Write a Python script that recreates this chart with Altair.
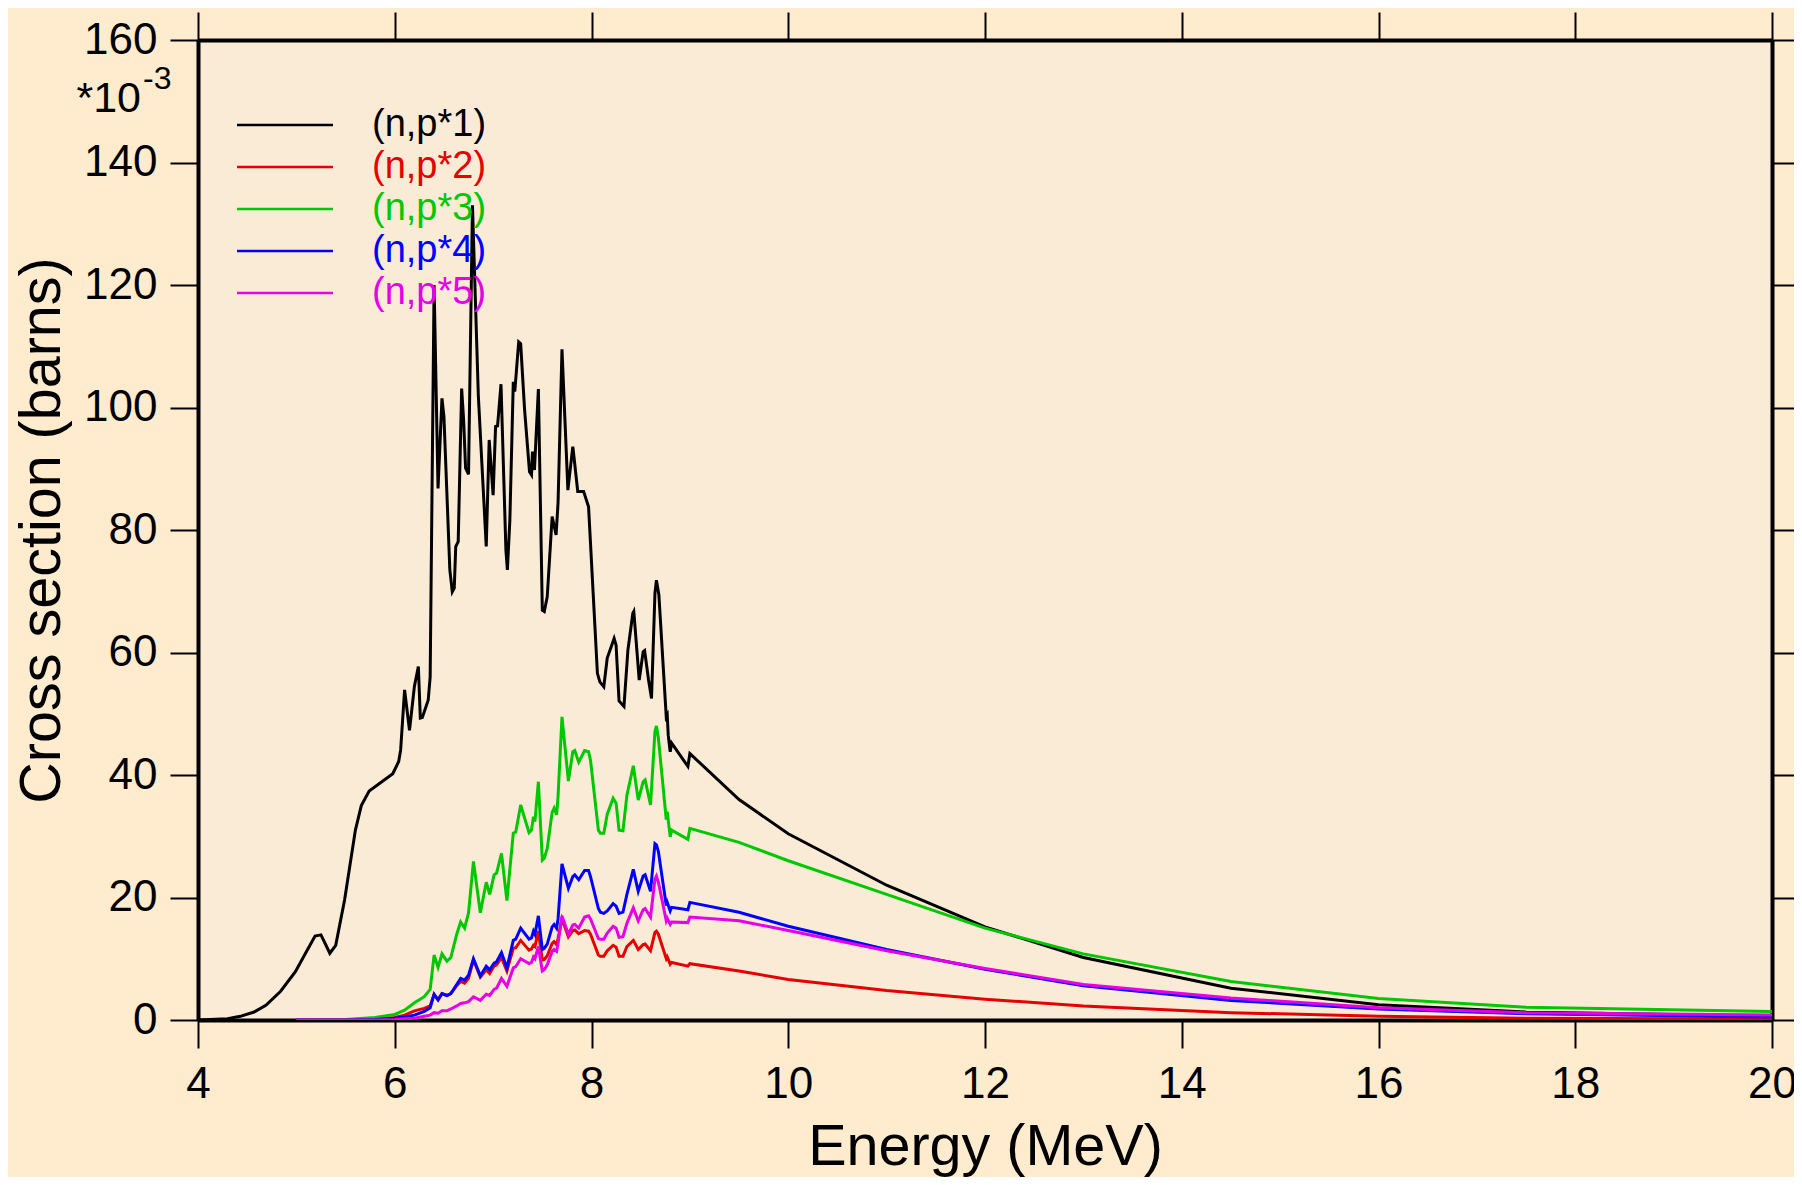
import altair as alt
import pandas as pd

series_names = ["(n,p*1)", "(n,p*2)", "(n,p*3)", "(n,p*4)", "(n,p*5)"]
series_colors = ["#000000", "#E60000", "#00C800", "#0000FF", "#E600E6"]

x_ticks = [4, 6, 8, 10, 12, 14, 16, 18, 20]
y_ticks = [0, 20, 40, 60, 80, 100, 120, 140, 160]

# (n,p*1) energies (MeV) and cross sections (1e-3 barns)
e_np1 = [4.0, 4.3, 4.43, 4.57, 4.69, 4.84, 4.99, 5.10, 5.19, 5.25, 5.34, 5.40, 5.49, 5.60, 5.66, 5.74,
         5.98, 6.04, 6.06, 6.10, 6.15, 6.20, 6.24, 6.26, 6.28, 6.34, 6.36, 6.40, 6.44, 6.48, 6.50, 6.56,
         6.585, 6.605, 6.62, 6.645, 6.68, 6.70, 6.72, 6.75, 6.79, 6.85, 6.93, 6.96, 7.00, 7.025, 7.045,
         7.08, 7.13, 7.145, 7.17, 7.205, 7.22, 7.26, 7.28, 7.32, 7.37, 7.39, 7.40, 7.42, 7.46, 7.50, 7.52,
         7.55, 7.60, 7.64, 7.66, 7.70, 7.76, 7.81, 7.82, 7.86, 7.92, 7.97, 8.06, 8.085, 8.125, 8.16, 8.23,
         8.25, 8.28, 8.33, 8.37, 8.42, 8.43, 8.485, 8.525, 8.54, 8.58, 8.61, 8.645, 8.66, 8.685, 8.76,
         8.77, 8.78, 8.80, 8.815, 8.98, 9.00, 9.5, 10.0, 11.0, 12.0, 13.0, 14.5, 16.0, 17.5, 20.0]
v_np1 = [0.0, 0.2, 0.6, 1.3, 2.4, 4.7, 7.9, 11.1, 13.7, 13.9, 10.9, 12.2, 19.6, 31.0, 35.0, 37.4,
         40.2, 42.2, 44.1, 53.9, 47.3, 54.5, 57.7, 49.3, 49.4, 52.2, 56.0, 120.0, 86.8, 101.5, 98.5, 73.5,
         69.9, 70.5, 77.3, 78.1, 103.1, 98.0, 90.1, 89.1, 133.0, 101.8, 77.3, 94.7, 85.7, 96.9, 97.0,
         103.8, 76.7, 73.5, 81.6, 104.2, 102.6, 110.7, 110.4, 99.6, 89.5, 89.0, 92.8, 89.8, 103.0, 66.9, 66.7,
         69.1, 82.2, 79.2, 84.4, 109.5, 86.5, 93.6, 92.2, 86.3, 86.3, 83.8, 56.6, 55.2, 54.4, 59.1, 62.3,
         61.2, 52.1, 51.2, 60.4, 66.4, 66.7, 55.5, 60.1, 60.3, 55.5, 52.5, 69.7, 71.8, 69.4, 49.5,
         49.8, 46.5, 43.8, 45.2, 41.4, 43.5, 36.0, 30.4, 22.0, 15.2, 10.2, 5.2, 2.5, 1.3, 0.6]

# common energy grid of the partial channels
e_part = [5.0, 5.5, 5.8, 6.0, 6.1, 6.2, 6.3, 6.36, 6.40, 6.44, 6.48, 6.53, 6.57, 6.63, 6.67, 6.71, 6.75,
          6.80, 6.87, 6.93, 6.965, 7.01, 7.035, 7.085, 7.14, 7.205, 7.23, 7.28, 7.365, 7.39, 7.41, 7.425,
          7.46, 7.50, 7.52, 7.55, 7.60, 7.62, 7.645, 7.66, 7.70, 7.765, 7.81, 7.83, 7.87, 7.93, 7.97, 7.99,
          8.07, 8.09, 8.125, 8.16, 8.22, 8.25, 8.28, 8.32, 8.36, 8.425, 8.475, 8.525, 8.545, 8.60, 8.645,
          8.66, 8.68, 8.76, 8.77, 8.80, 8.815, 8.98, 9.00, 9.5, 10.0, 11.0, 12.0, 13.0, 14.5, 16.0, 17.5, 20.0]

v_np2 = [0.0, 0.0, 0.1, 0.4, 0.8, 1.5, 1.9, 2.3, 4.2, 3.3, 4.3, 4.0, 4.3, 5.6, 6.3, 6.0, 6.8,
         9.8, 7.0, 8.2, 7.6, 8.8, 9.0, 10.2, 8.0, 11.7, 11.8, 13.0, 11.4, 11.6, 12.2, 12.0,
         14.5, 9.8, 9.9, 10.5, 12.5, 12.8, 12.3, 13.3, 16.5, 13.6, 14.6, 14.7, 14.1, 14.6, 14.5, 14.0,
         10.6, 10.4, 10.4, 11.3, 12.2, 11.9, 10.4, 10.4, 12.0, 13.0, 11.5, 12.3, 12.4, 11.3, 14.3,
         14.5, 14.0, 10.0, 10.3, 9.1, 9.4, 8.8, 9.2, 8.0, 6.6, 4.8, 3.4, 2.3, 1.2, 0.6, 0.3, 0.15]

v_np3 = [0.0, 0.1, 0.4, 0.9, 1.6, 2.8, 3.8, 5.0, 10.6, 8.6, 10.8, 9.6, 10.2, 14.0, 16.0, 15.0, 17.5,
         25.9, 17.5, 22.5, 20.5, 23.7, 24.0, 27.2, 19.5, 30.5, 30.7, 35.1, 30.6, 31.0, 33.2, 32.4,
         38.9, 26.1, 26.4, 28.0, 33.9, 34.6, 33.5, 36.5, 49.5, 39.0, 43.8, 44.0, 42.1, 44.0, 43.8, 42.4,
         31.0, 30.5, 30.5, 33.6, 36.2, 35.4, 31.0, 30.9, 36.7, 41.5, 35.9, 38.9, 39.2, 35.1, 47.1,
         48.0, 46.0, 32.7, 34.0, 29.9, 31.0, 29.5, 31.3, 29.0, 26.0, 20.5, 15.0, 10.8, 6.3, 3.5, 2.1, 1.4]

v_np4 = [0.0, 0.0, 0.1, 0.3, 0.5, 0.8, 1.4, 2.0, 4.2, 3.3, 4.3, 4.0, 4.3, 5.8, 6.8, 6.5, 7.3,
         10.0, 7.2, 8.8, 8.2, 9.3, 9.5, 11.0, 8.5, 13.0, 13.2, 15.0, 13.2, 13.4, 14.5, 14.0,
         17.0, 11.5, 11.7, 12.4, 15.2, 15.6, 15.0, 16.5, 25.5, 21.5, 23.4, 23.7, 22.9, 24.4, 24.4, 23.4,
         18.2, 17.6, 17.4, 17.8, 19.0, 18.6, 17.4, 17.6, 20.5, 24.6, 21.0, 23.5, 23.7, 21.0, 28.8,
         28.6, 27.5, 18.7, 19.2, 17.8, 18.4, 18.0, 19.2, 17.6, 15.3, 11.5, 8.3, 5.6, 3.2, 1.8, 1.0, 0.5]

v_np5 = [0.0, 0.0, 0.0, 0.1, 0.2, 0.3, 0.6, 0.8, 1.2, 1.1, 1.5, 1.5, 1.8, 2.3, 2.7, 2.8, 3.0,
         3.8, 3.2, 4.2, 4.0, 5.0, 5.2, 6.8, 5.5, 8.5, 8.7, 10.0, 9.2, 9.4, 10.3, 10.0,
         12.0, 8.0, 8.2, 9.0, 11.2, 11.5, 11.2, 12.5, 17.0, 14.0, 15.5, 15.6, 15.0, 16.8, 17.0, 16.5,
         13.3, 13.2, 13.2, 14.2, 15.3, 15.0, 13.5, 13.6, 15.8, 18.3, 16.2, 18.0, 18.2, 16.8, 23.0,
         23.5, 22.5, 16.2, 16.6, 15.6, 16.0, 15.9, 16.8, 16.2, 14.6, 11.3, 8.4, 5.8, 3.6, 2.0, 1.2, 0.8]

FONT = "Liberation Sans"

frames = [pd.DataFrame({"E": e_np1, "v": v_np1, "series": series_names[0]})]
for name, vals in zip(series_names[1:], [v_np2, v_np3, v_np4, v_np5]):
    frames.append(pd.DataFrame({"E": e_part, "v": vals, "series": name}))
df = pd.concat(frames, ignore_index=True)

color_scale = alt.Scale(domain=series_names, range=series_colors)
xdom = alt.Scale(domain=[4, 20], nice=False, zero=False)
ydom = alt.Scale(domain=[0, 160], nice=False)

common_axis = dict(tickSize=28, tickWidth=2, tickColor="black", domainWidth=4, domainColor="black",
                   grid=False, labelFont=FONT, labelFontSize=44, labelColor="black",
                   titleFont=FONT, titleFontSize=57.5, titleFontWeight="normal", titleColor="black")

lines = alt.Chart(df).mark_line(strokeWidth=3, clip=True).encode(
    x=alt.X("E:Q", scale=xdom,
            axis=alt.Axis(orient="bottom", values=x_ticks, title="Energy (MeV)", labelPadding=14,
                          titlePadding=13, labelFlush=False, labelOverlap=False, **common_axis)),
    y=alt.Y("v:Q", scale=ydom,
            axis=alt.Axis(orient="left", values=y_ticks, title="Cross section (barns)", labelPadding=13,
                          titlePadding=12, labelOverlap=False, **common_axis)),
    color=alt.Color("series:N", scale=color_scale, legend=None),
)

frame_df = pd.DataFrame({"E": [4, 20], "v": [0, 160]})
frame = alt.Chart(frame_df).mark_point(opacity=0).encode(
    x=alt.X("E:Q", scale=xdom,
            axis=alt.Axis(orient="top", values=x_ticks, labels=False, title=None, **common_axis)),
    y=alt.Y("v:Q", scale=ydom,
            axis=alt.Axis(orient="right", values=y_ticks, labels=False, title=None, **common_axis)),
)

leg_df = pd.DataFrame({"series": series_names, "row": list(range(len(series_names)))})
leg_y = alt.Y("row:Q", scale=alt.Scale(domain=[0, 4], range=[85, 253]), axis=None)
leg_lines = alt.Chart(leg_df).mark_rule(strokeWidth=2.5).encode(
    x=alt.value(39), x2=alt.value(135), y=leg_y,
    color=alt.Color("series:N", scale=color_scale, legend=None),
)
leg_text = alt.Chart(leg_df).mark_text(align="left", baseline="middle", font=FONT, fontSize=38).encode(
    x=alt.value(174), y=leg_y, text="series:N",
    color=alt.Color("series:N", scale=color_scale, legend=None),
)

exp_base = alt.Chart(pd.DataFrame({"t": ["*10"]})).mark_text(
    align="right", baseline="alphabetic", font=FONT, fontSize=43, color="black"
).encode(x=alt.value(-57), y=alt.value(72), text="t:N")
exp_sup = alt.Chart(pd.DataFrame({"t": ["-3"]})).mark_text(
    align="left", baseline="alphabetic", font=FONT, fontSize=32, color="black"
).encode(x=alt.value(-55), y=alt.value(49), text="t:N")

chart = alt.layer(lines, frame, leg_lines, leg_text, exp_base, exp_sup).resolve_scale(
    x="independent", y="independent"
).properties(
    width=1574, height=980,
    autosize=alt.AutoSizeParams(type="none"),
    padding={"left": 190, "top": 32, "right": 22, "bottom": 157},
    background="#FFEBCD",
).configure_view(stroke=None, fill="#FAEBD7")

chart.save("out.html", embed_options={"renderer": "svg", "actions": False})
